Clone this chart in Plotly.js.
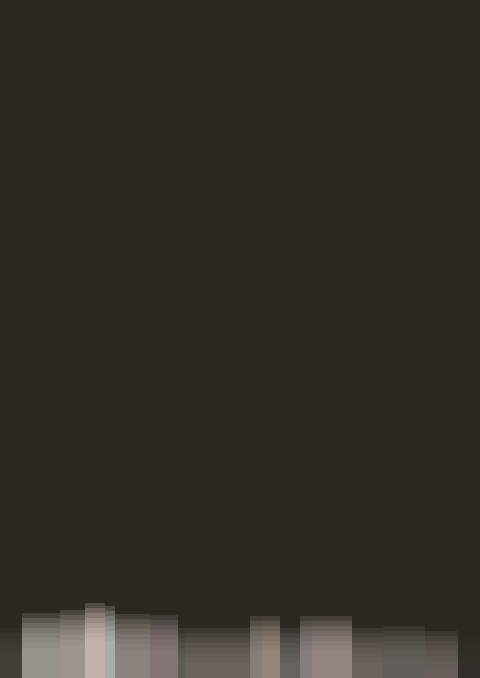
<!DOCTYPE html>
<html>
<head>
<meta charset="utf-8">
<script src="https://cdn.plot.ly/plotly-3.0.1.min.js"></script>
<style>
  html, body { margin: 0; padding: 0; background: #2c2821; }
  #chart { width: 480px; height: 678px; }
</style>
</head>
<body>
<div id="chart"></div>
<script>
// left edge of each streak band (px across the picture)
var edges = [0, 22, 60, 85, 105, 115, 150, 178, 185, 215, 250, 262, 280,
             300, 312, 352, 383, 425, 458, 480];
// how far each band reaches up from the bottom
var heights = [50, 65, 68, 75, 72, 64, 63, 50, 50, 50, 62, 62, 50,
               62, 62, 50, 52, 47, 40];
var colors = ['#48453f', '#aaa3a0', '#b2aaa6', '#dac9c4', '#c0c4c0', '#9c908c',
              '#928682', '#6a6460', '#786e6a', '#766c68', '#948e8a', '#a4948f',
              '#746c68', '#948f8b', '#a49490', '#786f6b', '#6e6864', '#716965',
              '#36322c'];

var lefts = edges.slice(0, -1);
var widths = lefts.map(function (e, i) { return edges[i + 1] - e; });

// several see-through copies, each a little shorter, to fake the soft fade at the top
var data = [];
for (var k = 0; k < 8; k++) {
  data.push({
    x: lefts,
    y: heights.map(function (h) { return h - k * 5; }),
    width: widths, offset: 0,
    type: 'bar',
    marker: { color: colors, opacity: 0.22, line: { width: 0 } },
    hoverinfo: 'skip',
    showlegend: false
  });
}

var layout = {
    width: 480, height: 678,
    margin: { l: 0, r: 0, t: 0, b: 0 },
    paper_bgcolor: '#2c2821',
    plot_bgcolor: '#2c2821',
    barmode: 'overlay',
    xaxis: { range: [0, 480], visible: false, fixedrange: true },
    yaxis: { range: [0, 678], visible: false, fixedrange: true }
  };

Plotly.newPlot('chart', data, layout, { displayModeBar: false, staticPlot: true });
</script>
</body>
</html>
